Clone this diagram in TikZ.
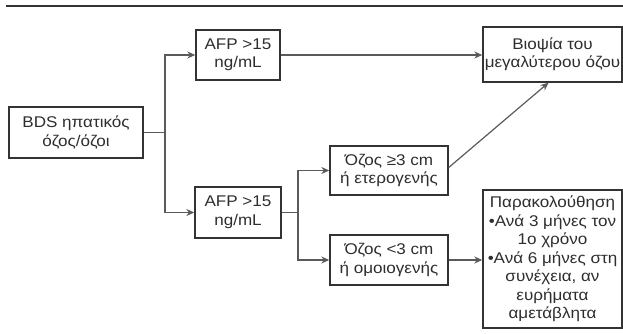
\documentclass[tikz,border=0pt]{standalone}
\usepackage{fontspec}
\setmainfont[FakeStretch=1.1]{Liberation Sans}
\usetikzlibrary{arrows.meta}
\definecolor{boxc}{HTML}{333333}
\definecolor{linec}{HTML}{5A5A5A}
\definecolor{txtc}{HTML}{2E2E2E}
\tikzset{
  px/.style={x=1pt,y=-1pt},
  box/.style={draw=boxc, line width=1.4pt, fill=white, align=center, text=txtc,
    font=\fontsize{15.5}{18.5}\selectfont, inner sep=0pt, minimum width=#1},
  conn/.style={draw=linec, line width=1.2pt},
  arr/.style={conn, -{Stealth[length=8pt,width=7pt]}}
}
\begin{document}
\begin{tikzpicture}[px]
\useasboundingbox (0,0) rectangle (623,334);
\draw[draw=boxc, line width=1.6pt] (6,6) -- (623,6);
\node[box=134pt, minimum height=51pt] (bds) at (76,132.5) {BDS ηπατικός\\όζος/όζοι};
\node[box=84pt, minimum height=50pt] (afp1) at (238,55) {AFP >15\\ng/mL};
\node[box=86pt, minimum height=51pt] (afp2) at (238,212.5) {AFP >15\\ng/mL};
\node[box=118pt, minimum height=49pt] (oz1) at (389,170.5) {Όζος ≥3 cm\\ή ετερογενής};
\node[box=118pt, minimum height=50pt] (oz2) at (389,260) {Όζος <3 cm\\ή ομοιογενής};
\node[box=139pt, minimum height=55pt] (bio) at (552.5,54.5) {Βιοψία του\\μεγαλύτερου όζου};
\node[box=139pt, minimum height=138pt] (fol) at (552.5,259) {Παρακολούθηση\\•Ανά 3 μήνες τον\\1ο χρόνο\\•Ανά 6 μήνες στη\\συνέχεια, αν\\ευρήματα\\αμετάβλητα};
\coordinate (j1) at (165,132.5);
\coordinate (j2) at (298,212.5);
\draw[conn] (bds) -- (j1);
\draw[arr] (j1) |- (afp1);
\draw[arr] (j1) |- (afp2);
\draw[arr] (afp1) -- (bio.west |- afp1);
\draw[conn] (afp2) -- (j2);
\draw[arr] (j2) |- (oz1);
\draw[arr] (j2) |- (oz2);
\draw[arr] ([yshift=3pt]oz1.east) -- ([xshift=-4pt]bio.south);
\draw[arr] (oz2) -- (fol.west |- oz2);
\end{tikzpicture}
\end{document}
